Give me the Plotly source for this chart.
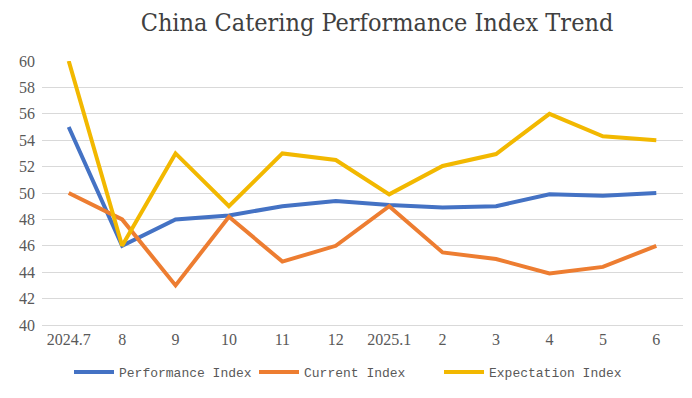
import plotly.graph_objects as go

categories = ["2024.7", "8", "9", "10", "11", "12", "2025.1", "2", "3", "4", "5", "6"]
performance_index = [55, 46, 48, 48.3, 49, 49.4, 49.1, 48.9, 49.0, 49.9, 49.8, 50.0]
current_index = [50, 48, 43, 48.2, 44.8, 46, 49, 45.5, 45.0, 43.9, 44.4, 46]
expectation_index = [60, 46, 53, 49, 53, 52.5, 49.9, 52.05, 52.95, 56, 54.3, 54]

series = [
    ("Performance Index", performance_index, "#4472C4"),
    ("Current Index", current_index, "#ED7D31"),
    ("Expectation Index", expectation_index, "#F2B800"),
]

W, H = 684, 390  # page has an 8px body margin

fig = go.Figure()
for name, vals, color in series:
    fig.add_trace(go.Scatter(
        x=categories, y=vals, mode="lines", name=name,
        line=dict(color=color, width=4),
    ))

fig.update_layout(
    width=W, height=H,
    margin=dict(l=34, r=9, t=53, b=73, autoexpand=False),
    paper_bgcolor="white", plot_bgcolor="white",
    title=dict(
        text="China Catering Performance Index Trend",
        x=369 / W, xanchor="center", y=1 - 14 / H, yanchor="middle",
        font=dict(family="DejaVu Serif Condensed", size=25, color="#404040"),
    ),
    showlegend=True,
    legend=dict(
        orientation="h", x=61 / W, xanchor="left",
        xref="container", yref="container", y=1 - 349 / H, yanchor="top",
        font=dict(family="Liberation Mono", size=13, color="#595959"),
        itemwidth=40, traceorder="normal", entrywidth=130, entrywidthmode="pixels",
    ),
    xaxis=dict(
        type="category", showgrid=False, showline=True, linecolor="#D9D9D9",
        linewidth=1, ticks="", automargin=False,
        tickfont=dict(family="Liberation Serif", size=16, color="#595959"),
        range=[-0.5, 11.5],
    ),
    yaxis=dict(
        range=[40, 60], dtick=2, showgrid=True, gridcolor="#D9D9D9", gridwidth=1,
        zeroline=False, showline=False, ticks="", automargin=False,
        ticklabelstandoff=6,
        tickfont=dict(family="Liberation Serif", size=16, color="#595959"),
    ),
)

fig.write_html("out.html")
